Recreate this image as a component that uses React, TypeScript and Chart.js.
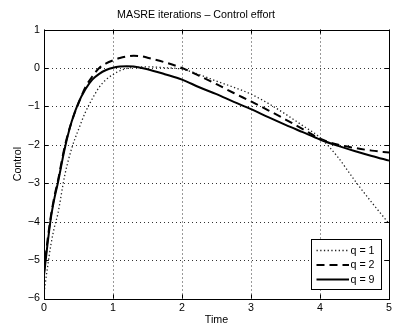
import React, { useEffect, useRef } from 'react';
import { Chart, registerables } from 'chart.js';

Chart.register(...registerables);

const times = [0, 0.05, 0.1, 0.15, 0.2, 0.3, 0.4, 0.5, 0.6, 0.7, 0.8, 0.9, 1.0, 1.1, 1.2, 1.3, 1.4, 1.5, 1.75, 2.0, 2.25, 2.5, 2.75, 3.0, 3.25, 3.5, 3.75, 4.0, 4.25, 4.5, 4.75, 5.0];
const q1 = [-5.85, -5.2, -4.6, -4.15, -3.8, -2.8, -2.1, -1.6, -1.15, -0.8, -0.5, -0.3, -0.17, -0.07, -0.01, 0.02, 0.03, 0.03, 0.01, -0.03, -0.17, -0.34, -0.5, -0.68, -0.92, -1.2, -1.5, -1.81, -2.3, -2.92, -3.5, -4.05];
const q2 = [-5.3, -4.5, -3.85, -3.35, -2.95, -2.05, -1.4, -0.92, -0.5, -0.22, 0.0, 0.12, 0.2, 0.26, 0.3, 0.32, 0.31, 0.27, 0.15, 0.0, -0.2, -0.42, -0.65, -0.87, -1.1, -1.34, -1.59, -1.84, -1.99, -2.08, -2.15, -2.2];
const q9 = [-5.4, -4.6, -3.9, -3.4, -3.0, -2.1, -1.4, -0.9, -0.55, -0.3, -0.15, -0.05, 0.01, 0.04, 0.05, 0.04, 0.01, -0.03, -0.16, -0.3, -0.5, -0.68, -0.88, -1.07, -1.28, -1.48, -1.67, -1.86, -2.02, -2.16, -2.29, -2.41];
const seriesLabels = ['q = 1', 'q = 2', 'q = 9'];
const titleText = 'MASRE iterations \u2013 Control effort';
const xTitle = 'Time';
const yTitle = 'Control';
const xRange = [0, 5];
const yRange = [-6, 1];

const FONT = "'Liberation Sans', Arial, Helvetica, sans-serif";

const gridPlugin = {
  id: 'matlabGrid',
  beforeDatasetsDraw(chart: any) {
    const { ctx, chartArea: a, scales } = chart;
    ctx.save();
    ctx.strokeStyle = '#333';
    ctx.lineWidth = 1;
    ctx.setLineDash([1, 3]);
    ctx.beginPath();
    scales.x.ticks.forEach((t: any) => {
      const px = Math.round(scales.x.getPixelForValue(t.value)) + 0.5;
      ctx.moveTo(px, a.bottom); ctx.lineTo(px, a.top);
    });
    scales.y.ticks.forEach((t: any) => {
      const py = Math.round(scales.y.getPixelForValue(t.value)) + 0.5;
      ctx.moveTo(a.left, py); ctx.lineTo(a.right, py);
    });
    ctx.stroke();
    ctx.restore();
  },
};

const framePlugin = {
  id: 'matlabFrame',
  afterDatasetsDraw(chart: any) {
    const { ctx, chartArea: a, scales } = chart;
    ctx.save();
    ctx.strokeStyle = '#000';
    ctx.lineWidth = 1;
    ctx.setLineDash([]);
    ctx.beginPath();
    const tl = 4;
    scales.x.ticks.forEach((t: any) => {
      const px = Math.round(scales.x.getPixelForValue(t.value)) + 0.5;
      ctx.moveTo(px, a.bottom); ctx.lineTo(px, a.bottom - tl);
      ctx.moveTo(px, a.top); ctx.lineTo(px, a.top + tl);
    });
    scales.y.ticks.forEach((t: any) => {
      const py = Math.round(scales.y.getPixelForValue(t.value)) + 0.5;
      ctx.moveTo(a.left, py); ctx.lineTo(a.left + tl, py);
      ctx.moveTo(a.right, py); ctx.lineTo(a.right - tl, py);
    });
    ctx.stroke();
    ctx.strokeRect(Math.round(a.left) + 0.5, Math.round(a.top) + 0.5, Math.round(a.right - a.left), Math.round(a.bottom - a.top));

    const w = 70, h = 50;
    const bx = Math.round(a.right - 8 - w) + 0.5;
    const by = Math.round(a.bottom - 9.5 - h) + 0.5;
    ctx.fillStyle = '#fff';
    ctx.fillRect(bx, by, w, h);
    ctx.strokeStyle = '#000';
    ctx.lineWidth = 1;
    ctx.strokeRect(bx, by, w, h);
    chart.data.datasets.forEach((ds: any, i: number) => {
      const y = by + 11 + i * 14.5;
      ctx.save();
      ctx.strokeStyle = ds.borderColor;
      ctx.lineWidth = ds.borderWidth;
      ctx.setLineDash(ds.borderDash || []);
      ctx.beginPath();
      ctx.moveTo(bx + 5, y);
      ctx.lineTo(bx + 37.5, y);
      ctx.stroke();
      ctx.restore();
      ctx.fillStyle = '#000';
      ctx.font = `10.7px ${FONT}`;
      ctx.textAlign = 'left';
      ctx.textBaseline = 'middle';
      ctx.fillText(ds.label, bx + 39, y + 0.5);
    });
    ctx.restore();
  },
};

export default function App() {
  const ref = useRef<HTMLCanvasElement | null>(null);
  useEffect(() => {
    document.body.style.margin = '0';
    const canvas = ref.current;
    if (!canvas) return;
    const mk = (ys: number[]) => times.map((t, i) => ({ x: t, y: ys[i] }));
    const minus = (v: any) => String(v).replace('-', '\u2212');
    const chart = new Chart(canvas, {
      type: 'line',
      data: {
        datasets: [
          { label: seriesLabels[0], data: mk(q1), borderColor: '#222', borderWidth: 1.3, borderDash: [1.3, 2.4], pointRadius: 0, cubicInterpolationMode: 'monotone', fill: false },
          { label: seriesLabels[1], data: mk(q2), borderColor: '#000', borderWidth: 2, borderDash: [8, 5], pointRadius: 0, cubicInterpolationMode: 'monotone', fill: false },
          { label: seriesLabels[2], data: mk(q9), borderColor: '#000', borderWidth: 2, pointRadius: 0, cubicInterpolationMode: 'monotone', fill: false },
        ],
      } as any,
      options: {
        responsive: false,
        animation: false,
        devicePixelRatio: 1,
        layout: { padding: { left: 0, right: 3, top: 0, bottom: 0 } },
        plugins: {
          legend: { display: false },
          tooltip: { enabled: false },
          title: {
            display: true,
            text: titleText,
            color: '#000',
            font: { family: FONT, size: 10.7, weight: 'normal' },
            padding: { top: 8.4, bottom: 8.4 },
          },
        },
        scales: {
          x: {
            type: 'linear',
            min: xRange[0],
            max: xRange[1],
            afterFit: (s: any) => { s.height = 35.5; },
            ticks: { stepSize: 1, color: '#000', padding: 3, font: { family: FONT, size: 10.7 }, callback: minus, maxRotation: 0 },
            grid: { display: false, drawTicks: false },
            border: { display: false },
            title: { display: true, text: xTitle, color: '#000', font: { family: FONT, size: 10.7 }, padding: { top: 0, bottom: 7.4 } },
          },
          y: {
            type: 'linear',
            min: yRange[0],
            max: yRange[1],
            afterFit: (s: any) => { s.width = 44; },
            ticks: { stepSize: 1, color: '#000', padding: 4, font: { family: FONT, size: 10.7 }, callback: minus },
            grid: { display: false, drawTicks: false },
            border: { display: false },
            title: { display: true, text: yTitle, color: '#000', font: { family: FONT, size: 10.7 }, padding: { top: 11.4, bottom: 0 } },
          },
        },
      } as any,
      plugins: [gridPlugin, framePlugin],
    });
    return () => chart.destroy();
  }, []);
  return (
    <div style={{ position: 'fixed', left: 0, top: 0, width: 395, height: 334, background: '#fff' }}>
      <canvas ref={ref} width={395} height={334} />
    </div>
  );
}
